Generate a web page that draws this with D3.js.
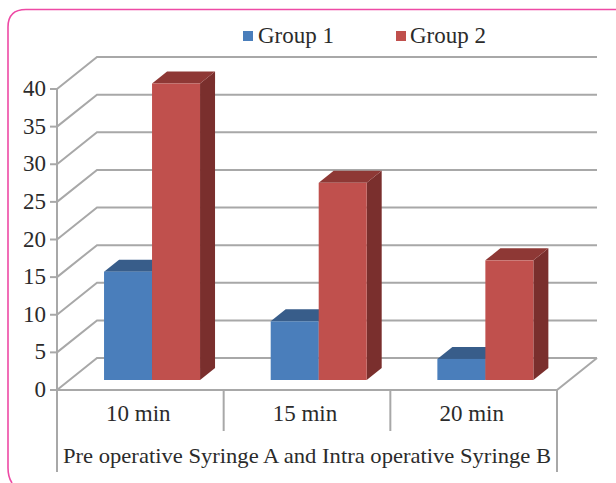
<!DOCTYPE html>
<html>
<head>
<meta charset="utf-8">
<script src="https://cdn.jsdelivr.net/npm/d3@7"></script>
<style>
  html, body { margin: 0; padding: 0; background: #fff; }
  svg { display: block; }
  text { font-family: "Liberation Serif", serif; fill: #2b2b2b; }
</style>
</head>
<body>
<div id="chart"></div>
<script>
const width = 616,
    height = 483;

const categories = ["10 min", "15 min", "20 min"];
const seriesNames = ["Group 1", "Group 2"];
const group1 = [14.4, 7.8, 2.8];
const group2 = [39.4, 26.2, 15.9];
const yTicks = [0, 5, 10, 15, 20, 25, 30, 35, 40];
const axisTitle = "Pre operative Syringe A and Intra operative Syringe B";

const frontColors = ["#4a7ebb", "#c0504d"];
const topColors = ["#385d8a", "#8e3835"];
const sideColors = ["#2f4f75", "#7a2f2d"];
const gridColor = "#a8a8a8";

const svg = d3.select("#chart")
  .append("svg")
  .attr("width", width)
  .attr("height", height)
  .attr("viewBox", [0, 0, width, height]);

// front plane of the box
const x = d3.scaleBand().domain(categories).range([57, 557]);
const y = d3.scaleLinear().domain([0, 40]).range([390, 89]);

// 3d offsets: back wall, bar front face, bar depth
const wall = { dx: 40, dy: -32 };
const barFront = { dx: 11.7, dy: -10 };
const barDepth = { dx: 15, dy: -12 };
const barWidth = 48;

// page border, runs off the right and the bottom
svg.append("path")
  .attr("d", "M616,9.5H26Q8,9.5 8,27V468Q8,477 12,483")
  .attr("fill", "none")
  .attr("stroke", "#ee4aa5")
  .attr("stroke-width", 1.6);

const grid = svg.append("g")
  .attr("stroke", gridColor)
  .attr("stroke-width", 2)
  .attr("fill", "none");

// back wall lines and the diagonals on the side wall
grid.selectAll(".back")
  .data(yTicks)
  .enter().append("path")
  .attr("class", "back")
  .attr("d", d => `M${x.range()[0]},${y(d)}L${x.range()[0] + wall.dx},${y(d) + wall.dy}H${x.range()[1] + wall.dx}`);

// floor front edge and right edge
grid.append("path")
  .attr("d", `M${x.range()[0]},${y(0)}H${x.range()[1]}L${x.range()[1] + wall.dx},${y(0) + wall.dy}`);

// y axis with ticks, carries on down past the category row
grid.append("path")
  .attr("d", `M${x.range()[0]},${y(40)}V472`);
grid.selectAll(".tick")
  .data(yTicks)
  .enter().append("path")
  .attr("class", "tick")
  .attr("d", d => `M${x.range()[0] - 7},${y(d)}H${x.range()[0]}`);

// category dividers
grid.selectAll(".divider")
  .data(categories.slice(1))
  .enter().append("path")
  .attr("class", "divider")
  .attr("d", d => `M${x(d)},${y(0)}V431`);
grid.append("path")
  .attr("d", `M${x.range()[1]},${y(0)}V472`);

const bars = [];
categories.forEach((c, i) => {
    bars.push({ cat: c, s: 0, value: group1[i] });
    bars.push({ cat: c, s: 1, value: group2[i] });
});

function barX(d) {
    return x(d.cat) + x.bandwidth() / 2 + barFront.dx - barWidth + d.s * barWidth;
}
function barY(v) {
    return y(v) + barFront.dy;
}

const bar = svg.selectAll(".bar")
  .data(bars)
  .enter().append("g")
  .attr("class", "bar");

bar.append("path")
  .attr("fill", d => sideColors[d.s])
  .attr("d", d => {
      const x1 = barX(d) + barWidth;
      return `M${x1},${barY(d.value)}l${barDepth.dx},${barDepth.dy}V${barY(0) + barDepth.dy}l${-barDepth.dx},${-barDepth.dy}Z`;
  });

bar.append("path")
  .attr("fill", d => topColors[d.s])
  .attr("d", d => {
      const x0 = barX(d);
      return `M${x0},${barY(d.value)}l${barDepth.dx},${barDepth.dy}h${barWidth}l${-barDepth.dx},${-barDepth.dy}Z`;
  });

bar.append("rect")
  .attr("fill", d => frontColors[d.s])
  .attr("x", d => barX(d))
  .attr("y", d => barY(d.value))
  .attr("width", barWidth)
  .attr("height", d => barY(0) - barY(d.value));

// y tick labels
svg.selectAll(".y-label")
  .data(yTicks)
  .enter().append("text")
  .attr("class", "y-label")
  .attr("x", 46)
  .attr("y", d => y(d) + 7)
  .attr("text-anchor", "end")
  .attr("font-size", 23)
  .text(d => d);

// category labels
svg.selectAll(".x-label")
  .data(categories)
  .enter().append("text")
  .attr("class", "x-label")
  .attr("x", d => x(d) + x.bandwidth() / 2 - 2)
  .attr("y", 421)
  .attr("text-anchor", "middle")
  .attr("font-size", 23)
  .text(d => d);

svg.append("text")
  .attr("x", 63)
  .attr("y", 463)
  .attr("font-size", 22)
  .attr("textLength", 488)
  .attr("lengthAdjust", "spacingAndGlyphs")
  .text(axisTitle);

// legend
const legendX = d3.scaleOrdinal().domain(seriesNames).range([243, 396]);

const legend = svg.selectAll(".legend")
  .data(seriesNames)
  .enter().append("g")
  .attr("class", "legend");

legend.append("rect")
  .attr("x", d => legendX(d))
  .attr("y", 31)
  .attr("width", 10)
  .attr("height", 10)
  .attr("fill", (d, i) => frontColors[i]);

legend.append("text")
  .attr("x", (d, i) => legendX(d) + 15 - i)
  .attr("y", 43)
  .attr("font-size", 23)
  .text(d => d);
</script>
</body>
</html>
